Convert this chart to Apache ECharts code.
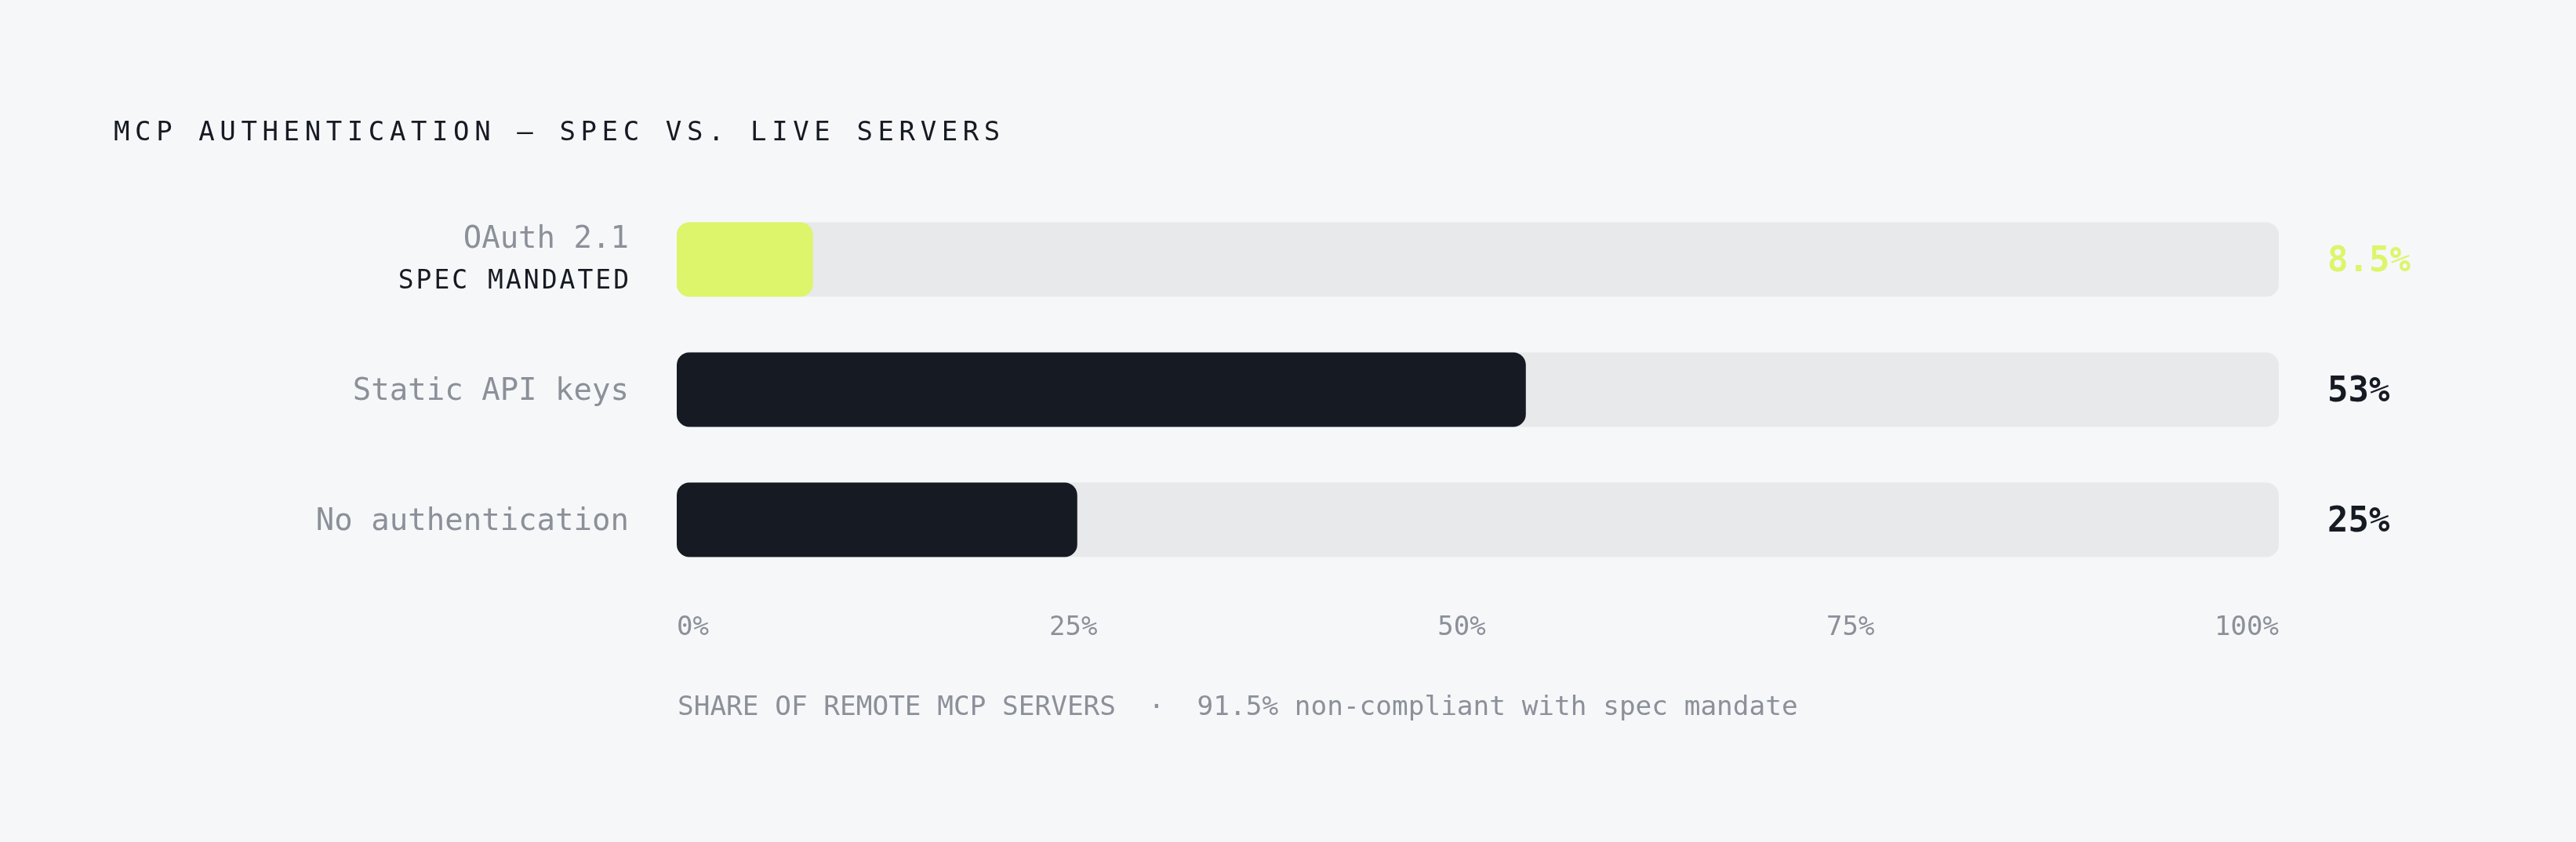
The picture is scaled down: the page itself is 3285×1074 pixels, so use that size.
<!DOCTYPE html>
<html>
<head>
<meta charset="utf-8">
<script src="https://cdn.jsdelivr.net/npm/echarts@6/dist/echarts.min.js"></script>
<style>
  html, body { margin: 0; padding: 0; background: #f6f7f9; }
  #chart { width: 3285px; height: 1074px; }
</style>
</head>
<body>
<div id="chart"></div>
<script>
// ---- data ----
const titleText = 'MCP AUTHENTICATION — SPEC VS. LIVE SERVERS';
const categories = ['OAuth 2.1', 'Static API keys', 'No authentication'];
const subLabels = ['SPEC MANDATED', '', ''];
const shares = [8.5, 53, 25];
const axisMax = 100;
const tickValues = [0, 25, 50, 75, 100];
const footerText = 'SHARE OF REMOTE MCP SERVERS  ·  91.5% non-compliant with spec mandate';
const highlightIndex = 0;

// ---- styles ----
const MONO = '"DejaVu Sans Mono", "Liberation Mono", monospace';
const C_BG = '#f6f7f9';
const C_DARK = '#161a22';
const C_GREEN = '#dcf56b';
const C_TRACK = '#e8e9eb';
const C_GRAY = '#8b9099';

function spaced(str, key) {
  const chars = Array.from(str);
  return chars.map((c, i) => `{${i === chars.length - 1 ? key + 'e' : key}|${c}}`).join('');
}

// tick label shifts to mimic space-between distribution
const tickPad = { 0: 0, 25: 10, 50: 41, 75: 71, 100: 0 };

const chart = echarts.init(document.getElementById('chart'), null, { renderer: 'canvas' });

const tickRich = {};
tickValues.forEach(v => {
  tickRich['t' + v] = {
    fontFamily: MONO, fontSize: 34, color: C_GRAY, fontWeight: 'normal',
    padding: [0, tickPad[v] || 0, 0, 0]
  };
});

const option = {
  backgroundColor: C_BG,
  animation: false,
  title: {
    text: spaced(titleText, 'c'),
    left: 145,
    top: 153,
    padding: 0,
    textStyle: {
      fontWeight: 'normal',
      rich: {
        c: { fontFamily: MONO, fontSize: 34, fontWeight: 'normal', color: C_DARK, padding: [0, 6.6, 0, 0] },
        ce: { fontFamily: MONO, fontSize: 34, fontWeight: 'normal', color: C_DARK }
      }
    }
  },
  grid: { left: 863, right: 379, top: 248, bottom: 328, containLabel: false },
  xAxis: {
    type: 'value',
    min: 0,
    max: axisMax,
    interval: 25,
    splitLine: { show: false },
    axisLine: { show: false },
    axisTick: { show: false },
    axisLabel: {
      margin: 38,
      alignMinLabel: 'left',
      alignMaxLabel: 'right',
      formatter: v => `{t${v}|${v}%}`,
      rich: tickRich
    }
  },
  yAxis: {
    type: 'category',
    inverse: true,
    data: categories,
    axisLine: { show: false },
    axisTick: { show: false },
    splitLine: { show: false },
    axisLabel: {
      margin: 61,
      formatter: (v, i) => {
        const sub = subLabels[i];
        return sub ? `{g|${v}}\n${spaced(sub, 's')}` : `{m|${v}}`;
      },
      rich: {
        g: { fontFamily: MONO, fontSize: 39, color: C_GRAY, lineHeight: 57, align: 'right', padding: [6, 0, 0, 0] },
        m: { fontFamily: MONO, fontSize: 39, color: C_GRAY, align: 'right', padding: [6, 0, 0, 0] },
        s: { fontFamily: MONO, fontSize: 33, color: C_DARK, lineHeight: 57, padding: [0, 3, 0, 0] },
        se: { fontFamily: MONO, fontSize: 33, color: C_DARK, lineHeight: 57 }
      }
    }
  },
  series: [
    {
      name: 'track',
      type: 'bar',
      silent: true,
      barWidth: 95,
      data: categories.map(() => axisMax),
      itemStyle: { color: C_TRACK, borderRadius: 16 },
      label: {
        show: true,
        position: 'right',
        distance: 62,
        offset: [0, 4],
        formatter: p => `{${p.dataIndex === highlightIndex ? 'hi' : 'lo'}|${shares[p.dataIndex]}%}`,
        rich: {
          hi: { fontFamily: MONO, fontSize: 44, fontWeight: 'bold', color: C_GREEN },
          lo: { fontFamily: MONO, fontSize: 44, fontWeight: 'bold', color: C_DARK }
        }
      },
      z: 1
    },
    {
      name: 'share',
      type: 'bar',
      barWidth: 95,
      barGap: '-100%',
      data: shares,
      itemStyle: {
        borderRadius: 16,
        color: p => (p.dataIndex === highlightIndex ? C_GREEN : C_DARK)
      },
      z: 2
    }
  ],
  graphic: [
    {
      type: 'text',
      left: 864,
      top: 886,
      style: {
        text: footerText,
        fontFamily: MONO,
        fontSize: 34.4,
        fill: C_GRAY
      }
    }
  ]
};

chart.setOption(option);
</script>
</body>
</html>
